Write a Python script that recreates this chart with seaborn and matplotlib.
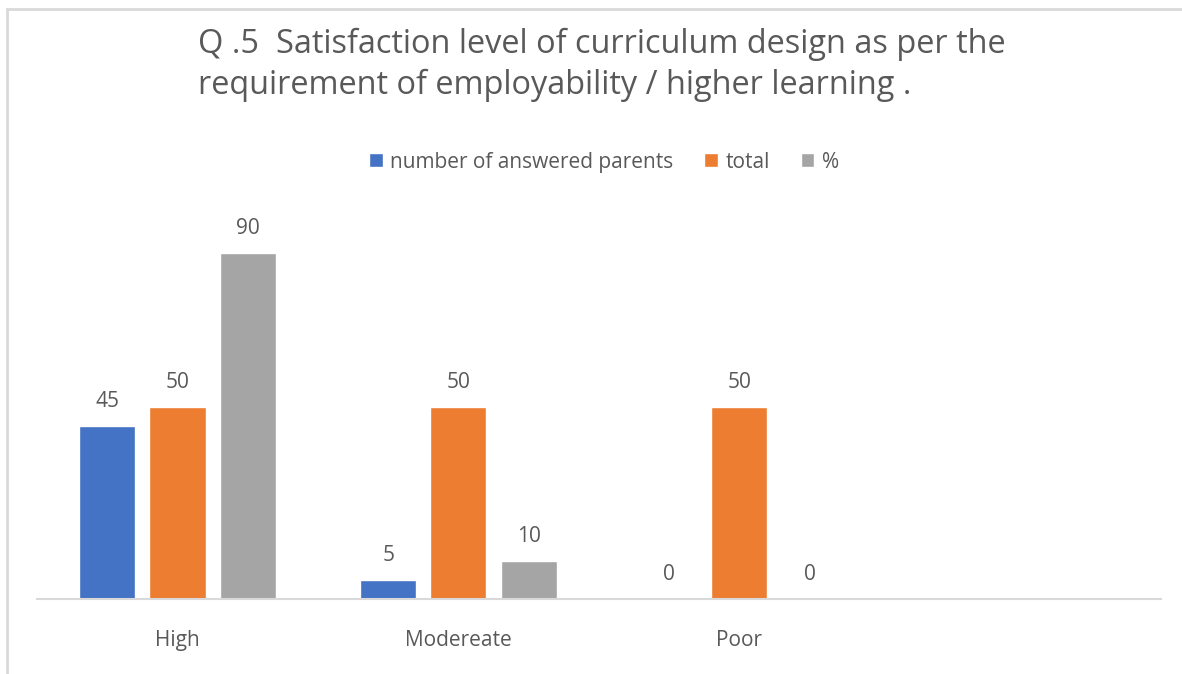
import matplotlib
matplotlib.use("Agg")
import matplotlib.pyplot as plt
from matplotlib.patches import Rectangle
import seaborn as sns
import pandas as pd
import numpy as np

categories = ["High", "Modereate", "Poor"]
series = ["number of answered parents", "total", "%"]
answered = [45, 5, 0]
total = [50, 50, 50]
percent = [90, 10, 0]
colors = ["#4472C4", "#ED7D31", "#A5A5A5"]
title = "Q .5  Satisfaction level of curriculum design as per the\nrequirement of employability / higher learning ."

df = pd.DataFrame({
    "category": categories * 3,
    "series": [s for s in series for _ in categories],
    "value": answered + total + percent,
})

sns.set_theme(style="white")
plt.rcParams["font.family"] = ["Open Sans", "DejaVu Sans"]
text_color = "#595959"

fig = plt.figure(figsize=(11.82, 6.74), dpi=100)
ax = fig.add_axes([0.0313, 0.1113, 0.9507, 0.57])

sns.barplot(data=df, x="category", y="value", hue="series", order=categories,
            hue_order=series, palette=colors, width=0.75, gap=0.2,
            saturation=1, ax=ax, legend=True)

ax.set_xlim(-0.5, 3.5)
ax.set_ylim(0, 100)
ax.set_xlabel("")
ax.set_ylabel("")
ax.set_yticks([])
ax.tick_params(axis="x", length=0, pad=22, labelsize=15, labelcolor=text_color)
for side in ["top", "right", "left"]:
    ax.spines[side].set_visible(False)
ax.spines["bottom"].set_color("#D9D9D9")
ax.spines["bottom"].set_linewidth(1.5)

for container in ax.containers:
    ax.bar_label(container, fmt="%g", padding=10, fontsize=15, color=text_color)

leg = ax.legend(loc="center", ncol=3, frameon=False, fontsize=15,
                handlelength=0.65, handleheight=0.65, handletextpad=0.35,
                columnspacing=1.5, labelcolor=text_color)
leg.set_bbox_to_anchor((0.511, 1 - 162 / 674), transform=fig.transFigure)

fig.text(0.509, 1 - 65 / 674, title, ha="center", va="center", multialignment="left",
         fontsize=23.4, color=text_color, linespacing=1.32)

fig.patches.append(Rectangle((7 / 1182, -0.05), 1.2, 1 - 9 / 674 + 0.05,
                             transform=fig.transFigure, fill=False,
                             edgecolor="#D9D9D9", linewidth=2, clip_on=False))

fig.savefig("out.png", dpi=100, facecolor="white")
